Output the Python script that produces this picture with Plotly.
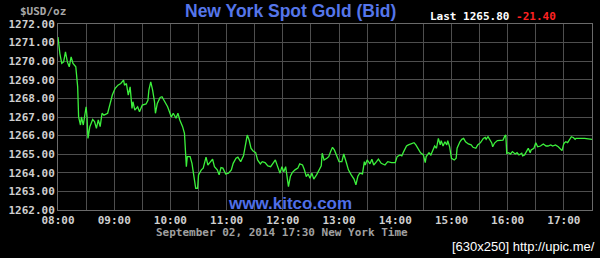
import plotly.graph_objects as go
import pandas as pd

trade_date = "2014-09-02"

times = [
    "08:00", "08:02", "08:04", "08:06", "08:08", "08:10", "08:12", "08:14", "08:16", "08:19",
    "08:21", "08:22", "08:24", "08:25", "08:27", "08:30", "08:31", "08:32", "08:34", "08:37",
    "08:39", "08:41", "08:43", "08:45", "08:47", "08:49", "08:53", "08:55", "08:58", "09:01",
    "09:04", "09:07", "09:10", "09:11", "09:13", "09:15", "09:17", "09:19", "09:20", "09:22",
    "09:25", "09:27", "09:30", "09:34", "09:36", "09:37", "09:39", "09:41", "09:43", "09:44",
    "09:46", "09:49", "09:51", "09:54", "09:57", "10:01", "10:03", "10:06", "10:08", "10:10",
    "10:13", "10:15", "10:16", "10:17", "10:18", "10:21", "10:23", "10:25", "10:27", "10:29",
    "10:30", "10:33", "10:35", "10:38", "10:40", "10:42", "10:45", "10:47", "10:50", "10:52",
    "10:54", "10:56", "10:59", "11:02", "11:05", "11:07", "11:10", "11:12", "11:15", "11:18",
    "11:20", "11:22", "11:24", "11:26", "11:28", "11:31", "11:33", "11:36", "11:38", "11:41",
    "11:44", "11:47", "11:50", "11:52", "11:54", "11:57", "11:59", "12:01", "12:03", "12:06",
    "12:08", "12:10", "12:13", "12:16", "12:18", "12:21", "12:23", "12:25", "12:27", "12:29",
    "12:31", "12:33", "12:36", "12:38", "12:41", "12:42", "12:44", "12:47", "12:49", "12:51",
    "12:53", "12:55", "12:57", "13:00", "13:03", "13:05", "13:08", "13:10", "13:13", "13:16",
    "13:18", "13:20", "13:22", "13:25", "13:27", "13:28", "13:30", "13:33", "13:35", "13:37",
    "13:40", "13:42", "13:45", "13:49", "13:52", "13:56", "14:00", "14:02", "14:05", "14:07",
    "14:09", "14:12", "14:14", "14:17", "14:20", "14:22", "14:24", "14:27", "14:30", "14:32",
    "14:33", "14:36", "14:38", "14:40", "14:42", "14:44", "14:46", "14:48", "14:49", "14:51",
    "14:53", "14:55", "14:56", "14:58", "15:00", "15:03", "15:05", "15:06", "15:09", "15:11",
    "15:13", "15:15", "15:18", "15:21", "15:23", "15:26", "15:28", "15:31", "15:34", "15:36",
    "15:37", "15:39", "15:41", "15:43", "15:44", "15:46", "15:49", "15:53", "15:55", "15:57",
    "15:58", "15:59", "16:01", "16:03", "16:05", "16:08", "16:10", "16:12", "16:15", "16:16",
    "16:18", "16:20", "16:22", "16:24", "16:25", "16:28", "16:30", "16:32", "16:35", "16:38",
    "16:41", "16:43", "16:46", "16:48", "16:51", "16:54", "16:56", "16:58", "17:00", "17:02",
    "17:04", "17:06", "17:08", "17:10", "17:12", "17:13", "17:17", "17:22", "17:30",
]

prices = [
    1271.30, 1270.41, 1269.88, 1269.96, 1270.50, 1269.96, 1269.70, 1270.23, 1269.88, 1269.70,
    1268.62, 1267.01, 1266.57, 1267.00, 1266.57, 1267.55, 1267.00, 1265.85, 1266.48, 1266.87,
    1266.75, 1266.39, 1266.84, 1266.48, 1267.20, 1267.10, 1267.20, 1267.55, 1268.18, 1268.54,
    1268.71, 1268.80, 1268.98, 1268.71, 1268.80, 1268.18, 1268.62, 1267.46, 1267.82, 1267.37,
    1267.55, 1267.28, 1267.64, 1267.70, 1267.90, 1268.44, 1268.89, 1268.44, 1267.82, 1267.20,
    1267.73, 1268.05, 1268.09, 1267.82, 1267.55, 1267.00, 1267.20, 1266.93, 1267.20, 1266.84,
    1266.48, 1266.12, 1264.87, 1264.33, 1264.87, 1264.87, 1264.51, 1263.71, 1263.17, 1263.17,
    1263.89, 1264.16, 1264.25, 1264.84, 1264.42, 1264.55, 1264.73, 1264.33, 1264.16, 1263.89,
    1264.28, 1264.25, 1263.94, 1263.98, 1264.16, 1264.51, 1264.78, 1264.84, 1264.60, 1264.91,
    1265.50, 1266.03, 1265.76, 1265.32, 1265.19, 1265.08, 1264.69, 1264.48, 1264.60, 1264.55,
    1264.37, 1264.33, 1264.55, 1264.69, 1264.40, 1263.98, 1264.33, 1264.06, 1264.33, 1263.26,
    1263.80, 1264.01, 1264.16, 1264.25, 1264.48, 1264.42, 1264.16, 1263.80, 1263.94, 1263.71,
    1263.98, 1263.66, 1263.89, 1264.06, 1264.37, 1265.05, 1264.69, 1264.78, 1264.87, 1265.14,
    1265.37, 1265.23, 1265.01, 1264.60, 1264.60, 1265.01, 1264.51, 1264.16, 1263.89, 1263.66,
    1263.35, 1263.80, 1263.98, 1263.94, 1264.60, 1264.42, 1264.69, 1264.48, 1264.73, 1264.42,
    1264.60, 1264.73, 1264.51, 1264.42, 1264.60, 1264.55, 1264.55, 1264.87, 1264.96, 1264.91,
    1265.14, 1265.44, 1265.50, 1265.55, 1265.62, 1265.50, 1265.32, 1265.08, 1264.96, 1264.55,
    1264.87, 1265.08, 1264.96, 1265.23, 1265.44, 1265.32, 1265.85, 1265.50, 1265.73, 1265.44,
    1265.67, 1265.50, 1265.73, 1265.40, 1264.78, 1264.69, 1264.78, 1265.32, 1265.67, 1265.80,
    1265.85, 1265.67, 1265.55, 1265.50, 1265.37, 1265.32, 1265.50, 1265.62, 1265.85, 1265.90,
    1265.80, 1265.94, 1265.80, 1265.60, 1265.40, 1265.60, 1265.73, 1265.73, 1265.76, 1265.98,
    1266.03, 1265.05, 1265.08, 1265.01, 1265.14, 1265.01, 1265.08, 1264.96, 1265.05, 1264.91,
    1264.96, 1265.14, 1265.32, 1265.08, 1265.23, 1265.32, 1265.62, 1265.40, 1265.44, 1265.55,
    1265.44, 1265.44, 1265.50, 1265.44, 1265.50, 1265.40, 1265.32, 1265.19, 1265.58, 1265.67,
    1265.62, 1265.76, 1265.94, 1265.90, 1265.80, 1265.85, 1265.85, 1265.85, 1265.80,
]

y_min, y_max = 1262, 1272
x_start, x_end = "08:00", "17:30"

title_text = "New York Spot Gold (Bid)"
unit_text = "$USD/oz"
last_text = "Last 1265.80"
change_text = "-21.40"
date_text = "September 02, 2014 17:30 New York Time"
site_text = "www.kitco.com"
stamp_text = "[630x250] http://upic.me/"

x = pd.to_datetime([f"{trade_date} {t}" for t in times])

MONO = "DejaVu Sans Mono"
SANS = "Liberation Sans, Arial"
GRID = "#4e4e4e"
FRAME = "#6a6a6a"

fig = go.Figure()
fig.add_trace(go.Scatter(
    x=x, y=prices, mode="lines",
    line=dict(color="#3cf03c", width=1.3),
    hoverinfo="skip", showlegend=False,
))

fig.update_layout(
    width=600, height=258,
    margin=dict(l=58, r=8, t=24, b=48),
    paper_bgcolor="#000000", plot_bgcolor="#000000",
    showlegend=False,
    xaxis=dict(
        type="date",
        range=[f"{trade_date} {x_start}", f"{trade_date} {x_end}"],
        tick0=f"{trade_date} {x_start}", dtick=3600000,
        tickformat="%H:%M",
        showgrid=True, gridcolor=GRID, gridwidth=1,
        minor=dict(dtick=1800000, showgrid=True, gridcolor=GRID, gridwidth=1),
        showline=True, linecolor=FRAME, linewidth=1, mirror=True,
        ticks="", zeroline=False,
        tickfont=dict(family=MONO, size=11, color="#cfcfcf", weight="bold"),
    ),
    yaxis=dict(
        range=[y_min, y_max], dtick=1, tick0=y_min,
        tickformat=".2f",
        showgrid=True, gridcolor=GRID, gridwidth=1,
        showline=True, linecolor=FRAME, linewidth=1, mirror=True,
        ticks="", zeroline=False,
        tickfont=dict(family=MONO, size=11, color="#cfcfcf", weight="bold"),
    ),
)

def px_x(p):
    return (p - 58) / 534.0

def px_y(p):
    return (210 - p) / 186.0

annos = [
    dict(text=title_text, x=px_x(290.5), y=px_y(11), xanchor="center", yanchor="middle",
         font=dict(family=SANS, size=17.5, color="#5576ea", weight="bold")),
    dict(text=unit_text, x=px_x(19), y=px_y(11), xanchor="left", yanchor="middle",
         font=dict(family=MONO, size=11, color="#a8a8a8", weight="bold")),
    dict(text=f"{last_text} <span style='color:#ff2222'>{change_text}</span>",
         x=px_x(429), y=px_y(16), xanchor="left", yanchor="middle",
         font=dict(family=MONO, size=11, color="#ffffff", weight="bold")),
    dict(text=date_text, x=px_x(282), y=px_y(232.5), xanchor="center", yanchor="middle",
         font=dict(family=MONO, size=11, color="#a0a0a0", weight="bold")),
    dict(text=site_text, x=px_x(290), y=px_y(203), xanchor="center", yanchor="middle",
         font=dict(family=SANS, size=17, color="#4f6fe8", weight="bold")),
    dict(text=stamp_text, x=px_x(596), y=px_y(246), xanchor="right", yanchor="middle",
         font=dict(family=SANS, size=13, color="#ffffff")),
]
for a in annos:
    fig.add_annotation(xref="paper", yref="paper", showarrow=False, borderpad=0, **a)

fig.write_html("out.html")
